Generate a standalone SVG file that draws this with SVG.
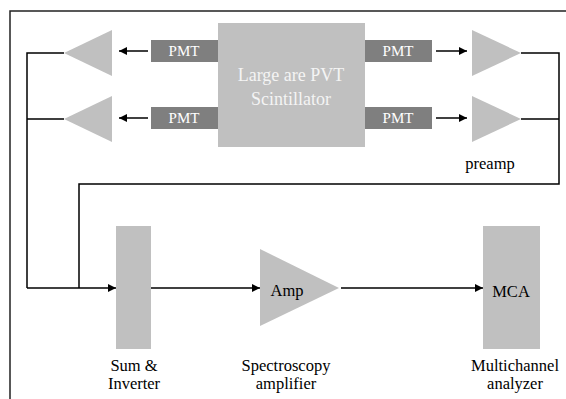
<svg xmlns="http://www.w3.org/2000/svg" width="566" height="399" viewBox="0 0 566 399">
<style>
.lt{fill:#c0c0c0}
.pmt{fill:#7f7f7f}
.w{stroke:#000;stroke-width:1.5;fill:none}
</style>
<defs>
<marker id="ah" viewBox="0 0 10 10" refX="10" refY="5" markerWidth="10" markerHeight="8" markerUnits="userSpaceOnUse" orient="auto">
<path d="M0,0 L10,5 L0,10 z" fill="#000"/>
</marker>
</defs>
<rect width="566" height="399" fill="#fff"/>
<path d="M10,399 L10,11 L566,11" fill="none" stroke="#222" stroke-width="1.5"/>
<g id="scintillator"><rect class="lt" x="218" y="23" width="147" height="124"/><text font-family="Liberation Serif" font-size="18" fill="#f4f4f4" text-anchor="middle" x="291" y="81">Large are PVT</text><text font-family="Liberation Serif" font-size="18" fill="#f4f4f4" text-anchor="middle" x="291" y="105">Scintillator</text></g>
<g id="pmt-lt"><rect class="pmt" x="151" y="40" width="67" height="22"/><text font-family="Liberation Serif" font-size="15" fill="#fff" text-anchor="middle" x="184" y="56">PMT</text></g>
<g id="pmt-lb"><rect class="pmt" x="151" y="107" width="67" height="22"/><text font-family="Liberation Serif" font-size="15" fill="#fff" text-anchor="middle" x="184" y="123">PMT</text></g>
<g id="pmt-rt"><rect class="pmt" x="365" y="40" width="67" height="22"/><text font-family="Liberation Serif" font-size="15" fill="#fff" text-anchor="middle" x="398" y="56">PMT</text></g>
<g id="pmt-rb"><rect class="pmt" x="365" y="107" width="67" height="22"/><text font-family="Liberation Serif" font-size="15" fill="#fff" text-anchor="middle" x="398" y="123">PMT</text></g>
<g id="preamp-lt"><polygon class="lt" points="64,53 112,30 112,76"/></g>
<g id="preamp-lb"><polygon class="lt" points="64,119 112,96 112,142"/></g>
<g id="preamp-rt"><polygon class="lt" points="521,53 472,30 472,76"/></g>
<g id="preamp-rb"><polygon class="lt" points="521,119 472,96 472,142"/><text font-family="Liberation Serif" font-size="16.5" fill="#000" text-anchor="middle" x="490" y="169">preamp</text></g>
<g id="sum"><rect class="lt" x="116" y="226" width="35" height="123"/><text font-family="Liberation Serif" font-size="16.5" fill="#000" text-anchor="middle" x="134" y="371">Sum &amp;</text><text font-family="Liberation Serif" font-size="16.5" fill="#000" text-anchor="middle" x="134" y="389">Inverter</text></g>
<g id="amp"><polygon class="lt" points="260,249 260,326 339,288"/><text font-family="Liberation Serif" font-size="16.5" fill="#000" text-anchor="middle" x="287" y="296">Amp</text><text font-family="Liberation Serif" font-size="16.5" fill="#000" text-anchor="middle" x="286" y="371">Spectroscopy</text><text font-family="Liberation Serif" font-size="16.5" fill="#000" text-anchor="middle" x="286" y="389">amplifier</text></g>
<g id="mca"><rect class="lt" x="483" y="226" width="57" height="123"/><text font-family="Liberation Serif" font-size="16.5" fill="#000" text-anchor="middle" x="511" y="297">MCA</text><text font-family="Liberation Serif" font-size="16.5" fill="#000" text-anchor="middle" x="515" y="371">Multichannel</text><text font-family="Liberation Serif" font-size="16.5" fill="#000" text-anchor="middle" x="515" y="389">analyzer</text></g>
<g id="connectors">
<line class="w" x1="148" y1="51" x2="119" y2="51" marker-end="url(#ah)"/>
<line class="w" x1="148" y1="118" x2="119" y2="118" marker-end="url(#ah)"/>
<line class="w" x1="436" y1="51" x2="467" y2="51" marker-end="url(#ah)"/>
<line class="w" x1="436" y1="118" x2="467" y2="118" marker-end="url(#ah)"/>
<path class="w" d="M64,53 H27 V288 M64,119 H27"/>
<path class="w" d="M521,53 H559 V184 H79 V288 M521,119 H559"/>
<line class="w" x1="27" y1="288" x2="116" y2="288" marker-end="url(#ah)"/>
<line class="w" x1="151" y1="288" x2="260" y2="288" marker-end="url(#ah)"/>
<line class="w" x1="341" y1="288" x2="483" y2="288" marker-end="url(#ah)"/>
</g>
</svg>
